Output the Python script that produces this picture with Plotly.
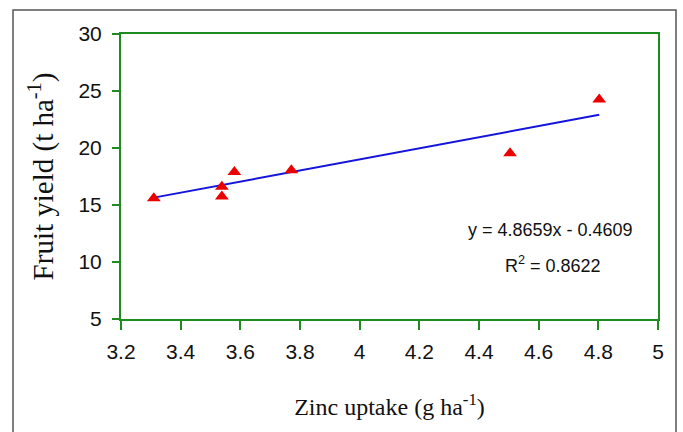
import plotly.graph_objects as go

# Zinc uptake (g/ha) vs fruit yield (t/ha)
zinc_uptake = [3.31, 3.538, 3.538, 3.58, 3.771, 4.504, 4.803]
fruit_yield = [15.6, 16.6, 15.75, 17.9, 18.05, 19.55, 24.25]

# Linear fit reported on the chart
slope = 4.8659
intercept = -0.4609
r_squared = 0.8622

x_ticks = [3.2, 3.4, 3.6, 3.8, 4, 4.2, 4.4, 4.6, 4.8, 5]
y_ticks = [5, 10, 15, 20, 25, 30]

fit_x = [min(zinc_uptake), max(zinc_uptake)]
fit_y = [slope * v + intercept for v in fit_x]

W, H = 683, 432
L, R, T, B = 121, 25, 34, 113
pw, ph = W - L - R, H - T - B


def px_to_paper(x, y):
    return (x - L) / pw, (H - B - y) / ph


GREEN = "rgb(30,140,30)"
SANS = "Liberation Sans Narrow, Arial Narrow, Liberation Sans, Arial"
SERIF = "Liberation Serif, Times New Roman"
tick_font = dict(family=SANS, size=21, color="#111")

fig = go.Figure()
fig.add_trace(go.Scatter(
    x=fit_x, y=fit_y, mode="lines",
    line=dict(color="rgb(20,20,220)", width=2),
    showlegend=False, hoverinfo="skip",
))
fig.add_trace(go.Scatter(
    x=zinc_uptake, y=fruit_yield, mode="markers",
    marker=dict(symbol="triangle-up", color="rgb(235,0,0)", size=12),
    showlegend=False,
))

sign = "-" if intercept < 0 else "+"
fig.add_annotation(
    x=4.641, y=12.85, xref="x", yref="y",
    text=f"y = {slope:.4f}x {sign} {abs(intercept):.4f}",
    showarrow=False, font=dict(family=SANS, size=18, color="#111"),
)
fig.add_annotation(
    x=4.648, y=9.8, xref="x", yref="y",
    text=f"R<sup>2</sup> = {r_squared:.4f}",
    showarrow=False, font=dict(family=SANS, size=18, color="#111"),
)

# Outer frame around the whole figure
x0, y0 = px_to_paper(13, 10)
x1, y1 = px_to_paper(676, 440)
fig.add_shape(type="rect", xref="paper", yref="paper", x0=x0, y0=y1, x1=x1, y1=y0,
              line=dict(color="#555", width=1.5), layer="below")

fig.update_xaxes(
    range=[3.2, 5], tickvals=x_ticks, ticktext=[f"{v:g}" for v in x_ticks],
    showgrid=False, zeroline=False,
    showline=True, linecolor=GREEN, linewidth=2, mirror=True,
    ticks="outside", ticklen=9, tickwidth=2, tickcolor=GREEN,
    tickfont=tick_font, ticklabelstandoff=4,
    title=dict(text="Zinc uptake (g ha<sup>-1</sup>)", standoff=36,
               font=dict(family=SERIF, size=24, color="#111")),
)
fig.update_yaxes(
    range=[5, 30], tickvals=y_ticks,
    showgrid=False, zeroline=False,
    showline=True, linecolor=GREEN, linewidth=2, mirror=True,
    ticks="outside", ticklen=7, tickwidth=2, tickcolor=GREEN,
    tickfont=tick_font, ticklabelstandoff=6,
    title=dict(text="Fruit yield (t ha<sup>-1</sup>)", standoff=16,
               font=dict(family=SERIF, size=29, color="#111")),
)

fig.update_layout(
    width=W, height=H,
    margin=dict(l=L, r=R, t=T, b=B, autoexpand=False),
    paper_bgcolor="white", plot_bgcolor="white",
)

fig.write_html("out.html")
